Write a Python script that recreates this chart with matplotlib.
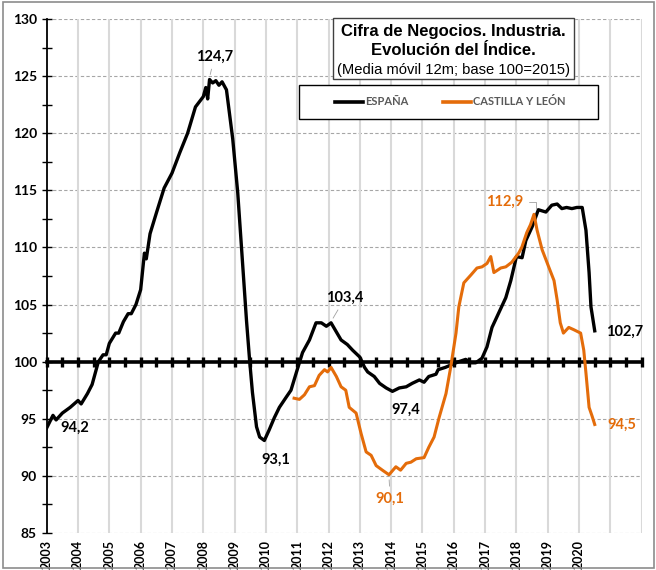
import matplotlib
matplotlib.use("Agg")
import numpy as np
from matplotlib import pyplot as plt
from matplotlib.patches import Rectangle

# fechas en años decimales
esp_x = [2003.0, 2003.2, 2003.3, 2003.5, 2003.75, 2004.0, 2004.1, 2004.3, 2004.45, 2004.55,
         2004.65, 2004.8, 2004.9, 2005.0, 2005.2, 2005.3, 2005.45, 2005.6, 2005.7, 2005.85,
         2006.0, 2006.12, 2006.18, 2006.3, 2006.5, 2006.75, 2007.0, 2007.25, 2007.5, 2007.75,
         2008.0, 2008.08, 2008.14, 2008.2, 2008.3, 2008.4, 2008.5, 2008.6, 2008.74, 2008.94,
         2009.1, 2009.22, 2009.38, 2009.48, 2009.57, 2009.7, 2009.8, 2009.95, 2010.1, 2010.27,
         2010.43, 2010.65, 2010.8, 2011.0, 2011.17, 2011.39, 2011.6, 2011.77, 2011.93, 2012.08,
         2012.25, 2012.4, 2012.6, 2012.77, 2013.0, 2013.15, 2013.25, 2013.46, 2013.63, 2013.84,
         2014.04, 2014.26, 2014.48, 2014.67, 2014.9, 2015.05, 2015.2, 2015.43, 2015.5, 2015.73,
         2015.9, 2016.16, 2016.38, 2016.55, 2016.7, 2016.9, 2017.06, 2017.22, 2017.44, 2017.66,
         2017.82, 2018.0, 2018.18, 2018.3, 2018.5, 2018.7, 2018.94, 2019.13, 2019.3, 2019.45,
         2019.6, 2019.77, 2019.93, 2020.1, 2020.22, 2020.32, 2020.38, 2020.5]
esp_y = [94.2, 95.3, 94.9, 95.5, 96.0, 96.6, 96.3, 97.2, 98.0, 99.0,
         100.0, 100.6, 100.6, 101.6, 102.5, 102.5, 103.5, 104.2, 104.2, 105.0,
         106.3, 109.5, 109.0, 111.2, 113.0, 115.2, 116.5, 118.3, 120.0, 122.3,
         123.2, 124.0, 123.0, 124.7, 124.4, 124.6, 124.2, 124.5, 123.8, 119.5,
         114.8, 110.0, 103.6, 100.1, 97.3, 94.3, 93.4, 93.1, 94.0, 95.1,
         96.0, 96.9, 97.5, 99.3, 100.8, 101.9, 103.4, 103.4, 103.1, 103.4,
         102.6, 101.9, 101.5, 101.0, 100.4, 99.5, 99.1, 98.7, 98.1, 97.7,
         97.4, 97.7, 97.8, 98.1, 98.4, 98.2, 98.7, 98.9, 99.3, 99.5,
         99.7, 100.0, 100.2, 99.9, 99.9, 100.3, 101.3, 103.0, 104.3, 105.6,
         107.1, 109.2, 109.1, 110.6, 111.8, 113.3, 113.1, 113.7, 113.8, 113.4,
         113.5, 113.4, 113.5, 113.5, 111.5, 107.8, 104.8, 102.7]

cyl_x = [2010.9, 2011.07, 2011.23, 2011.39, 2011.55, 2011.7, 2011.87, 2011.97, 2012.08, 2012.25,
         2012.4, 2012.55, 2012.66, 2012.88, 2013.04, 2013.2, 2013.36, 2013.52, 2013.72, 2013.93,
         2014.15, 2014.3, 2014.48, 2014.63, 2014.8, 2015.05, 2015.2, 2015.37, 2015.53, 2015.75,
         2015.9, 2016.07, 2016.16, 2016.32, 2016.55, 2016.74, 2016.9, 2017.06, 2017.18, 2017.28,
         2017.5, 2017.66, 2017.85, 2018.07, 2018.17, 2018.33, 2018.45, 2018.56, 2018.66, 2018.82,
         2019.03, 2019.2, 2019.3, 2019.4, 2019.5, 2019.67, 2019.83, 2020.05, 2020.15, 2020.22,
         2020.32, 2020.42, 2020.5]
cyl_y = [96.8, 96.7, 97.1, 97.8, 97.9, 98.8, 99.3, 99.1, 99.5, 98.7,
         97.8, 97.5, 96.0, 95.5, 93.7, 92.1, 91.8, 90.9, 90.5, 90.1,
         90.8, 90.5, 91.1, 91.2, 91.5, 91.6, 92.5, 93.4, 95.1, 97.2,
         99.5, 102.5, 104.8, 106.9, 107.6, 108.2, 108.3, 108.6, 109.2, 107.8,
         108.2, 108.3, 108.7, 109.5, 110.0, 111.3, 112.0, 112.9, 111.5, 109.8,
         108.3, 107.1, 105.4, 103.4, 102.5, 103.0, 102.8, 102.5, 101.0, 99.0,
         96.0, 95.2, 94.5]

years = list(range(2003, 2021))
naranja = '#E46C0A'
negro = '#000000'

plt.rcParams['font.family'] = ['Lato', 'DejaVu Sans']

fig = plt.figure(figsize=(6.56, 5.70), dpi=100)
ax = fig.add_axes([0.0712, 0.0649, 0.9070, 0.9018])

# rejilla
for v in range(85, 131, 5):
    if v != 100:
        ax.axhline(v, color='#A6A6A6', lw=0.8, ls=(0, (3, 2)), zorder=0)
for yr in range(2004, 2023):
    ax.axvline(yr, color='#D9D9D9', lw=1.5, zorder=0)

ax.plot(esp_x, esp_y, color=negro, lw=2.4, label='ESPAÑA', zorder=3)
ax.plot(cyl_x, cyl_y, color=naranja, lw=2.2, label='CASTILLA Y LEÓN', zorder=3)

ax.set_xlim(2003, 2022)
ax.set_ylim(85, 130)

# eje x cruza en 100
ax.spines['bottom'].set_position(('data', 100))
ax.spines['bottom'].set_linewidth(2.6)
ax.spines['bottom'].set_zorder(2)
ax.spines['top'].set_visible(False)
ax.spines['right'].set_visible(False)
ax.spines['left'].set_linewidth(1.3)
ax.set_xticks(np.arange(2003, 2022.1, 0.5))
ax.tick_params(axis='x', direction='inout', length=7, width=2.4, labelbottom=False)
ax.set_yticks(range(85, 131, 5))
ax.set_yticks(np.arange(87.5, 130, 5), minor=True)
ax.tick_params(axis='y', which='both', direction='inout', length=7, width=1.0)
for lab in ax.get_yticklabels():
    lab.set_fontweight('bold')
    lab.set_fontsize(10)

sec = ax.secondary_xaxis('bottom')
sec.set_xticks(years)
sec.set_xticklabels([str(y) for y in years], rotation=90, fontsize=9, fontweight='bold')
sec.tick_params(length=0, pad=5)
sec.spines['bottom'].set_visible(False)

# etiquetas de valores
fw = dict(fontsize=10.5, fontweight='bold', ha='center', va='center')
gris = dict(arrowstyle='-', color='#A0A0A0', lw=0.6)
ax.annotate('124,7', xy=(2008.2, 124.9), xytext=(2008.36, 126.7), arrowprops=gris, **fw)
ax.text(2003.9, 94.2, '94,2', **fw)
ax.text(2010.31, 91.4, '93,1', **fw)
ax.annotate('103,4', xy=(2012.1, 103.6), xytext=(2012.53, 105.6), arrowprops=gris, **fw)
ax.text(2014.45, 95.76, '97,4', **fw)
ax.annotate('90,1', xy=(2013.93, 89.9), xytext=(2013.97, 88.0), arrowprops=gris,
            color=naranja, **fw)
ax.annotate('112,9', xy=(2018.62, 113.1), xytext=(2017.63, 114.0), color=naranja,
            arrowprops=dict(arrowstyle='-', color='#A0A0A0', lw=0.6,
                            connectionstyle='angle,angleA=0,angleB=90,rad=0'), **fw)
ax.text(2021.45, 102.6, '102,7', **fw)
ax.text(2021.35, 94.45, '94,5', color=naranja, **fw)

# caja de título
ax.add_patch(Rectangle((0.481, 0.883), 0.405, 0.119, transform=ax.transAxes,
                       fill=True, fc='white', ec='#404040', lw=1.0, zorder=5, clip_on=False))
ax.text(0.684, 0.975, 'Cifra de Negocios. Industria.', transform=ax.transAxes, ha='center',
        va='center', fontsize=12, fontweight='bold', family='Liberation Sans', zorder=6)
ax.text(0.684, 0.938, 'Evolución del Índice.', transform=ax.transAxes, ha='center',
        va='center', fontsize=12, fontweight='bold', family='Liberation Sans', zorder=6)
ax.text(0.684, 0.901, '(Media móvil 12m; base 100=2015)', transform=ax.transAxes, ha='center',
        va='center', fontsize=10.6, family='Liberation Sans', zorder=6)

# caja de leyenda
ax.add_patch(Rectangle((0.424, 0.8054), 0.5026, 0.0662, transform=ax.transAxes,
                       fill=True, fc='white', ec='black', lw=1.0, zorder=5))
leg = ax.legend(loc='center left', bbox_to_anchor=(0.4845, 0.8385), ncol=2, frameon=False,
                fontsize=8, handlelength=2.5, handletextpad=0.2, columnspacing=3.1,
                borderpad=0, borderaxespad=0)
leg.set_zorder(6)
for t in leg.get_texts():
    t.set_color('#595959')
    t.set_fontweight('bold')
for h in leg.legend_handles:
    h.set_linewidth(2.6)

# marco exterior
fig.patches.append(Rectangle((0.004, 0.003), 0.993, 0.994, transform=fig.transFigure,
                             fill=False, ec='#8C8C8C', lw=1.2))

fig.savefig('out.png', dpi=100)
